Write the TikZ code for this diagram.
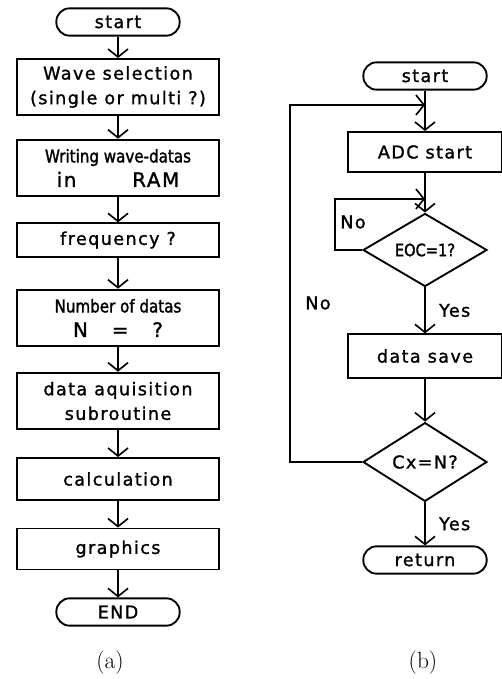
\documentclass[tikz,border=0pt]{standalone}
\usepackage{fontspec}
\setsansfont{DejaVu Sans}[LetterSpace=8,FakeBold=1.3]
\newfontfamily\narrowsf{DejaVu Sans}[FakeBold=1.6,FakeStretch=0.86]
\usetikzlibrary{shapes.geometric,arrows.meta}
\begin{document}
\begin{tikzpicture}[x=0.03cm,y=-0.03cm]
\tikzstyle{myarrow}=[line width=1.4pt,draw=black,-{Straight Barb[length=2.4mm,width=6mm]}];
\tikzstyle{box}=[draw,line width=1.6pt,minimum width=6.06cm,inner sep=2pt,align=center,font=\sffamily\fontsize{15}{21}\selectfont];
\tikzstyle{term}=[box,rounded corners=0.4cm,minimum width=3.7cm,minimum height=0.82cm];
\tikzstyle{cond}=[box,diamond,minimum width=3.72cm,minimum height=1.65cm,inner sep=0pt];
\tikzstyle{lbl}=[font=\sffamily\fontsize{15}{18}\selectfont];
\tikzstyle{subcap}=[font=\rmfamily\fontsize{20}{22}\selectfont];

\useasboundingbox (0,0) rectangle (501,679);

% (a) main program
\def \ax{118};
\node[term] (s1) at (\ax,22) {start};
\node[box,minimum height=1.68cm] (wave) at (\ax,87) {Wave selection\\(single or multi ?)};
\node[box,minimum height=1.7cm] (write) at (\ax,168) {{\narrowsf\fontsize{15}{16}\selectfont Writing wave-datas}\\{\fontsize{17}{20}\selectfont in\hspace{2.8em}RAM}};
\node[box,minimum height=1cm] (freq) at (\ax,240) {frequency ?};
\node[box,minimum height=1.7cm] (num) at (\ax,318) {{\narrowsf\fontsize{15}{16}\selectfont Number of datas}\\{\fontsize{17}{20}\selectfont N\hspace{1.2em}=\hspace{1.2em}?}};
\node[box,minimum height=1.7cm] (acq) at (\ax,401) {data aquisition\\subroutine};
\node[box,minimum height=1.26cm] (calc) at (\ax,479) {calculation};
\node[box,minimum height=1.23cm] (graph) at (\ax,549) {graphics};
\node[term] (fin) at (\ax,612) {END};
\node[subcap] (capa) at (110,663) {(a)};

\foreach \a/\b in {s1/wave,wave/write,write/freq,freq/num,num/acq,acq/calc,calc/graph,graph/fin}
  \draw[myarrow] (\a) -- (\b);

% (b) acquisition subroutine
\def \bx{425};
\node[term] (s2) at (\bx,76) {start};
\node[box,minimum width=4.6cm,minimum height=1.2cm] (adc) at (\bx,152) {ADC start};
\node[cond] (eoc) at (\bx,250) {\narrowsf\fontsize{14.5}{16}\selectfont EOC=1?};
\node[box,minimum width=4.6cm,minimum height=1.3cm] (save) at (\bx,356) {data save};
\node[cond] (cxn) at (\bx,462) {Cx=N?};
\node[term] (ret) at (\bx,560) {return};
\node[subcap] (capb) at (423,663) {(b)};

\coordinate (j1) at (\bx,105);
\coordinate (j2) at (\bx,199);

\draw[myarrow] (s2) -- (adc);
\draw[myarrow] (adc) -- (eoc);
\draw[myarrow] (eoc) -- node[lbl,right,xshift=8pt] (yes1) {Yes} (save);
\draw[myarrow] (save) -- (cxn);
\draw[myarrow] (cxn) -- node[lbl,right,xshift=8pt] (yes2) {Yes} (ret);

% loops back
\draw[myarrow] (eoc.west) -- ++(-27,0) |- (j2);
\node[lbl] (no1) at (353,222) {No};
\draw[myarrow] (cxn.west) -- ++(-72,0) |- (j1);
\node[lbl] (no2) at (318,303) {No};

\end{tikzpicture}
\end{document}
